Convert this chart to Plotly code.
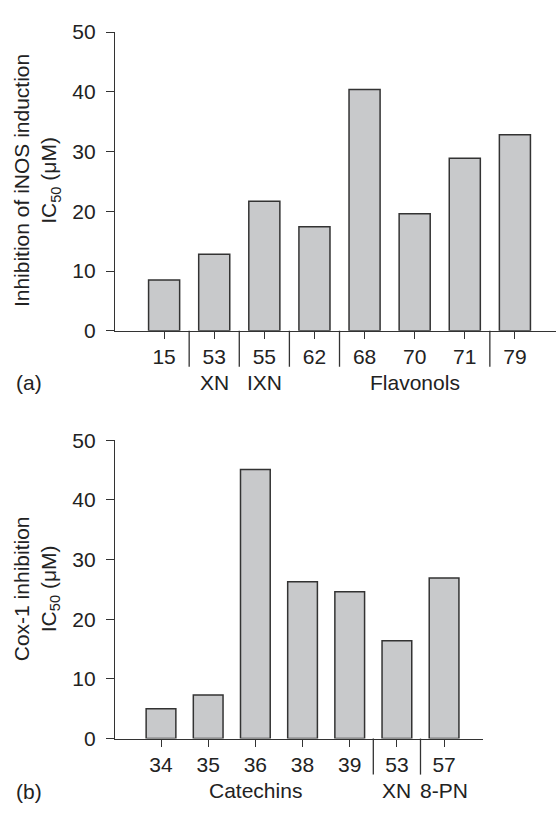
import plotly.graph_objects as go

# ---------------- data ----------------
cats_a = ["15", "53", "55", "62", "68", "70", "71", "79"]
vals_a = [8.5, 12.8, 21.7, 17.4, 40.4, 19.6, 28.9, 32.8]
seps_a = ["15", "53", "55", "62", "71"]          # separator after these categories
groups_a = [("XN", "53"), ("IXN", "55"), ("Flavonols", "70")]

cats_b = ["34", "35", "36", "38", "39", "53", "57"]
vals_b = [5.0, 7.3, 45.1, 26.3, 24.6, 16.4, 26.9]
seps_b = ["39", "53"]
groups_b = [("Catechins", "36"), ("XN", "53"), ("8-PN", "57")]

ytitle_a = "Inhibition of iNOS induction<br>IC<sub>50</sub> (μM)"
ytitle_b = "Cox-1 inhibition<br>IC<sub>50</sub> (μM)"
yticks = [0, 10, 20, 30, 40, 50]

# ---------------- style ----------------
FONT = "Liberation Sans, Arial, Helvetica, sans-serif"
FS = 21
INK = "#333333"
TXT = "#222222"
BAR_FILL = "#c8c9cb"
W, H = 556, 815

fig = go.Figure()
fig.add_trace(go.Bar(x=cats_a, y=vals_a, width=0.62,
                     marker=dict(color=BAR_FILL, line=dict(color=INK, width=1.5)),
                     xaxis="x", yaxis="y", showlegend=False, hoverinfo="x+y"))
fig.add_trace(go.Bar(x=cats_b, y=vals_b, width=0.63,
                     marker=dict(color=BAR_FILL, line=dict(color=INK, width=1.5)),
                     xaxis="x2", yaxis="y2", showlegend=False, hoverinfo="x+y"))


def px_x(p):
    return p / W


def px_y(p):
    return 1 - p / H


xcommon = dict(type="category", showline=True, linecolor=INK, linewidth=1.3, ticks="outside", ticklen=7,
               tickcolor=INK, tickwidth=1.3, showgrid=False, zeroline=False,
               tickfont=dict(family=FONT, size=FS, color=TXT))
ycommon = dict(range=[0, 50], tickvals=yticks, showline=True, linecolor=INK, linewidth=1.3, ticks="outside",
               ticklen=8, tickcolor=INK, tickwidth=1.3, showgrid=False, zeroline=False,
               tickfont=dict(family=FONT, size=FS, color=TXT), ticklabelstandoff=6)

fig.update_layout(
    width=W, height=H, margin=dict(l=0, r=0, t=0, b=0),
    paper_bgcolor="white", plot_bgcolor="white",
    font=dict(family=FONT, size=FS, color=TXT),
    xaxis=dict(xcommon, domain=[px_x(115), 1.0], range=[-0.98, len(cats_a) - 0.18], anchor="y"),
    yaxis=dict(ycommon, domain=[px_y(328), px_y(20.7)], anchor="x"),
    xaxis2=dict(xcommon, domain=[px_x(115), px_x(483)], range=[-0.975, len(cats_b) - 0.175], anchor="y2"),
    yaxis2=dict(ycommon, domain=[px_y(747.7), px_y(440.7)], anchor="x2"),
)

shapes = []
annos = []
for cats, seps, groups, xr, yr in [(cats_a, seps_a, groups_a, "x", "y"), (cats_b, seps_b, groups_b, "x2", "y2")]:
    for s in seps:
        i = cats.index(s) + 0.5
        shapes.append(dict(type="line", xref=xr, yref=yr + " domain", x0=i, x1=i, ysizemode="pixel", yanchor=0,
                           y0=0, y1=-36, line=dict(color=INK, width=1.3)))
    for label, c in groups:
        annos.append(dict(text=label, xref=xr, yref=yr, x=cats.index(c), y=0, yshift=-52, showarrow=False,
                          xanchor="center", yanchor="middle", font=dict(family=FONT, size=FS, color=TXT)))

# panel labels
annos.append(dict(text="(a)", xref="paper", yref="paper", x=px_x(14), y=px_y(381), xanchor="left",
                  yanchor="middle", showarrow=False, font=dict(family=FONT, size=FS, color=TXT)))
annos.append(dict(text="(b)", xref="paper", yref="paper", x=px_x(14), y=px_y(802), xanchor="left",
                  yanchor="middle", showarrow=False, font=dict(family=FONT, size=FS, color=TXT)))

# y axis titles
annos.append(dict(text=ytitle_a, xref="paper", yref="paper", x=px_x(37), y=px_y(174), textangle=-90,
                  xanchor="center", yanchor="middle", showarrow=False,
                  font=dict(family=FONT, size=FS, color=TXT)))
annos.append(dict(text=ytitle_b, xref="paper", yref="paper", x=px_x(37), y=px_y(594), textangle=-90,
                  xanchor="center", yanchor="middle", showarrow=False,
                  font=dict(family=FONT, size=FS, color=TXT)))

fig.update_layout(shapes=shapes, annotations=annos)
fig.write_html("out.html", config={"displayModeBar": False},
               post_script="document.body.style.margin='0';")
